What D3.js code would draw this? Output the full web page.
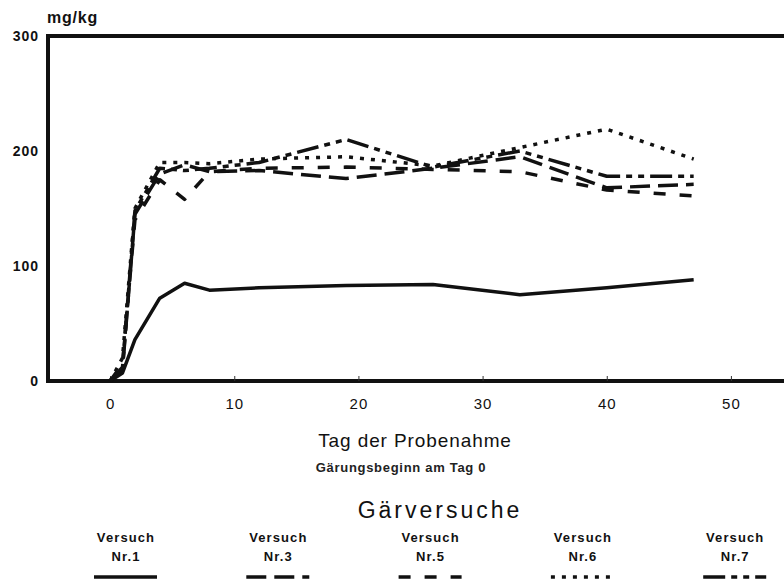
<!DOCTYPE html>
<html>
<head>
<meta charset="utf-8">
<script src="https://cdn.jsdelivr.net/npm/d3@7"></script>
<style>
  html, body { margin: 0; padding: 0; background: #fff; }
  svg { display: block; font-family: "Liberation Sans", Arial, sans-serif; }
</style>
</head>
<body>
<svg id="chart" width="784" height="583"></svg>
<script>
// Data
const days = [0, 1, 2, 4, 6, 8, 12, 19, 26, 33, 40, 47]
const nr1 = [0, 7, 36, 72, 85, 79, 81, 83, 84, 75, 81, 88]
const nr3 = [0, 10, 145, 180, 188, 182, 183, 176, 185, 195, 168, 171]
const nr5 = [0, 15, 140, 175, 158, 182, 185, 186, 184, 182, 166, 161]
const nr6 = [0, 20, 150, 190, 190, 189, 193, 195, 187, 203, 219, 193]
const nr7 = [0, 12, 148, 185, 183, 185, 190, 210, 186, 200, 178, 178]
const xTicks = [0, 10, 20, 30, 40, 50]
const yTicks = [0, 100, 200, 300]

const series = [
  { name: "Nr.1", values: nr1, dash: null },
  { name: "Nr.3", values: nr3, dash: "20,8" },
  { name: "Nr.5", values: nr5, dash: "12,14" },
  { name: "Nr.6", values: nr6, dash: "4,7" },
  { name: "Nr.7", values: nr7, dash: "22,6,6,6,6,6" },
]

// Scales
const x = d3.scaleLinear().domain([-5, 55]).range([48, 793])
const y = d3.scaleLinear().domain([0, 300]).range([381, 36])
const svg = d3.select("#chart")

// Frame
svg.append("path")
  .attr("d", `M${x(55)},${y(300)}H${x(-5)}V${y(0)}H${x(55)}`)
  .attr("fill", "none")
  .attr("stroke", "#111")
  .attr("stroke-width", 4)

// X axis
const gx = svg.append("g")
  .attr("transform", `translate(0,${y(0)})`)
  .call(d3.axisBottom(x).tickValues(xTicks).tickSizeInner(-5).tickSizeOuter(0).tickPadding(17))
gx.select(".domain").remove()
gx.selectAll("line").attr("stroke", "#333").attr("stroke-width", 1)
gx.selectAll("text")
  .attr("font-size", 15).attr("letter-spacing", 1).attr("fill", "#111")
  .attr("font-family", "Liberation Sans, Arial, sans-serif")

// Y axis
const gy = svg.append("g")
  .attr("transform", `translate(${x(-5)},0)`)
  .call(d3.axisLeft(y).tickValues(yTicks).tickSize(0).tickPadding(9))
gy.select(".domain").remove()
gy.selectAll("text")
  .attr("font-size", 14).attr("font-weight", "bold").attr("letter-spacing", 1).attr("fill", "#111")
  .attr("font-family", "Liberation Sans, Arial, sans-serif")

// Unit label
svg.append("text")
  .attr("x", 47).attr("y", 23)
  .attr("font-size", 16).attr("font-weight", "bold").attr("letter-spacing", 0.8).attr("fill", "#111")
  .text("mg/kg")

// Lines
const line = d3.line().x((d, i) => x(days[i])).y(d => y(d))
svg.append("g")
  .selectAll("path")
  .data(series)
  .join("path")
  .attr("d", d => line(d.values))
  .attr("fill", "none")
  .attr("stroke", "#111")
  .attr("stroke-width", 3.5)
  .attr("stroke-linejoin", "round")
  .attr("stroke-dasharray", d => d.dash)

// Axis titles
svg.append("text")
  .attr("x", 415).attr("y", 447)
  .attr("text-anchor", "middle")
  .attr("font-size", 19).attr("letter-spacing", 0.9).attr("fill", "#111")
  .text("Tag der Probenahme")
svg.append("text")
  .attr("x", 401).attr("y", 472)
  .attr("text-anchor", "middle")
  .attr("font-size", 13).attr("font-weight", "bold").attr("letter-spacing", 0.7).attr("fill", "#222")
  .text("Gärungsbeginn am Tag 0")

// Legend
svg.append("text")
  .attr("x", 440).attr("y", 518)
  .attr("text-anchor", "middle")
  .attr("font-size", 23).attr("letter-spacing", 3).attr("fill", "#111")
  .text("Gärversuche")

const legend = svg.append("g")
  .selectAll("g")
  .data(series)
  .join("g")
  .attr("transform", (d, i) => `translate(${126 + i * 152.3},0)`)
legend.append("text")
  .attr("y", 542).attr("text-anchor", "middle")
  .attr("font-size", 13).attr("font-weight", "bold").attr("letter-spacing", 1.1).attr("fill", "#111")
  .text("Versuch")
legend.append("text")
  .attr("y", 561).attr("text-anchor", "middle")
  .attr("font-size", 13).attr("font-weight", "bold").attr("letter-spacing", 1.1).attr("fill", "#111")
  .text(d => d.name)
legend.append("line")
  .attr("x1", -32).attr("x2", 31)
  .attr("y1", 577).attr("y2", 577)
  .attr("stroke", "#111")
  .attr("stroke-width", 3.5)
  .attr("stroke-dasharray", d => d.dash)
</script>
</body>
</html>
